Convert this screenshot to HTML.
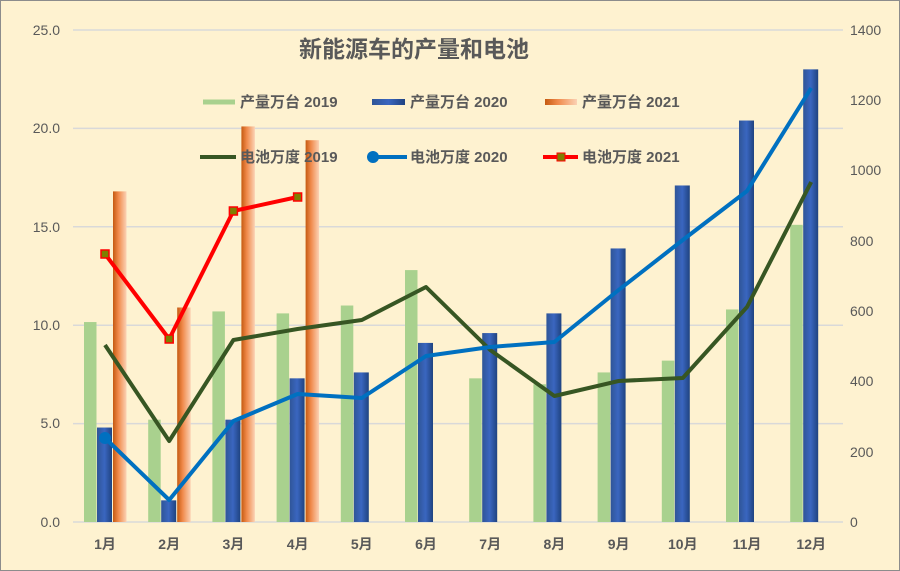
<!DOCTYPE html><html><head><meta charset="utf-8"><style>body{margin:0;background:#fff}svg{display:block}text{font-family:"Liberation Sans","Noto Sans CJK SC",sans-serif;fill:#595959}</style></head><body>
<svg width="900" height="571" viewBox="0 0 900 571">
<defs>
<linearGradient id="bl" x1="0" x2="1"><stop offset="0" stop-color="#2f5597"/><stop offset=".5" stop-color="#3a66c0"/><stop offset="1" stop-color="#1f4380"/></linearGradient>
<linearGradient id="or" x1="0" x2="1"><stop offset="0" stop-color="#c55a11"/><stop offset=".4" stop-color="#f08a4b"/><stop offset="1" stop-color="#fbd2b5"/></linearGradient>
</defs>
<rect x="0.5" y="0.5" width="899" height="570" fill="#fef2d0" stroke="#8c8c8c"/>
<g stroke="#d9d9d9" stroke-width="1.5">
<line x1="73" x2="843" y1="30" y2="30"/><line x1="73" x2="843" y1="128.4" y2="128.4"/><line x1="73" x2="843" y1="226.8" y2="226.8"/><line x1="73" x2="843" y1="325.2" y2="325.2"/><line x1="73" x2="843" y1="423.6" y2="423.6"/><line x1="73" x2="843" y1="522" y2="522"/>
</g>
<g font-size="14" text-anchor="end"><text x="60" y="35">25.0</text><text x="60" y="133">20.0</text><text x="60" y="232">15.0</text><text x="60" y="330">10.0</text><text x="60" y="428">5.0</text><text x="60" y="527">0.0</text></g>
<g font-size="14" text-anchor="start"><text x="850" y="35">1400</text><text x="850" y="105">1200</text><text x="850" y="175">1000</text><text x="850" y="246">800</text><text x="850" y="316">600</text><text x="850" y="386">400</text><text x="850" y="457">200</text><text x="850" y="527">0</text></g>
<g id="bars"></g>
<text x="414" y="57" font-size="23" font-weight="bold" text-anchor="middle" fill="#595959">新能源车的产量和电池</text>
<g font-size="15" font-weight="bold">
<rect x="203" y="99.5" width="32" height="5" fill="#a9d18e"/><text x="240" y="107">产量万台 2019</text>
<rect x="372" y="99" width="33" height="6" fill="url(#bl)"/><text x="410" y="107">产量万台 2020</text>
<rect x="545" y="99" width="32" height="6" fill="url(#or)"/><text x="582" y="107">产量万台 2021</text>
<line x1="200" x2="236" y1="157" y2="157" stroke="#375623" stroke-width="4"/><text x="240" y="162">电池万度 2019</text>
<line x1="372" x2="407" y1="157" y2="157" stroke="#0070c0" stroke-width="4"/><circle cx="373" cy="157" r="6" fill="#0070c0"/><text x="410" y="162">电池万度 2020</text>
<line x1="543" x2="578" y1="157" y2="157" stroke="#ff0000" stroke-width="4"/><rect x="557" y="153" width="8" height="8" fill="#7f7f00" stroke="#ff0000"/><text x="582" y="162">电池万度 2021</text>
</g>
<g id="lines"></g>
<g font-size="14" font-weight="bold" text-anchor="middle" id="xl"></g>
</svg>
<script>
var g=[10.16,5.2,10.7,10.6,11.0,12.8,7.3,7.0,7.6,8.2,10.8,15.1],b=[4.8,1.1,5.2,7.3,7.6,9.1,9.6,10.6,13.9,17.1,20.4,23.0],o=[16.8,10.9,20.1,19.4];
var l19=[345,441,340,329,320,287,350,396,381,378,307,182],l20=[438,500,421,394,398,356,347,342,290,240,191,88],l21=[254,339,211,197];
var ns="http://www.w3.org/2000/svg";function el(p,t,a){var e=document.createElementNS(ns,t);for(var k in a)e.setAttribute(k,a[k]);p.appendChild(e);return e}
var B=document.getElementById('bars'),L=document.getElementById('lines'),X=document.getElementById('xl');
function cx(i){return 105+64.2*i}function y(v){return 522-v*19.68}
for(var i=0;i<12;i++){var c=cx(i);
el(B,'rect',{x:c-21,y:y(g[i]),width:12.5,height:522-y(g[i]),fill:'#a9d18e'});
el(B,'rect',{x:c-8,y:y(b[i]),width:15,height:522-y(b[i]),fill:'url(#bl)'});
if(i<4)el(B,'rect',{x:c+8,y:y(o[i]),width:13.5,height:522-y(o[i]),fill:'url(#or)'});
var t=el(X,'text',{x:c,y:549});t.textContent=(i+1)+'月';}
function pts(a){return a.map(function(v,i){return cx(i)+','+v}).join(' ')}
el(L,'polyline',{points:pts(l19),fill:'none',stroke:'#375623','stroke-width':4,'stroke-linejoin':'round'});
el(L,'polyline',{points:pts(l20),fill:'none',stroke:'#0070c0','stroke-width':4,'stroke-linejoin':'round'});
el(L,'polyline',{points:pts(l21),fill:'none',stroke:'#ff0000','stroke-width':4,'stroke-linejoin':'round'});
el(L,'circle',{cx:cx(0),cy:l20[0],r:6,fill:'#0070c0'});
l21.forEach(function(v,i){el(L,'rect',{x:cx(i)-4,y:v-4,width:8,height:8,fill:'#7f7f00',stroke:'#ff0000','stroke-width':1.5})});
</script>
</body></html>
